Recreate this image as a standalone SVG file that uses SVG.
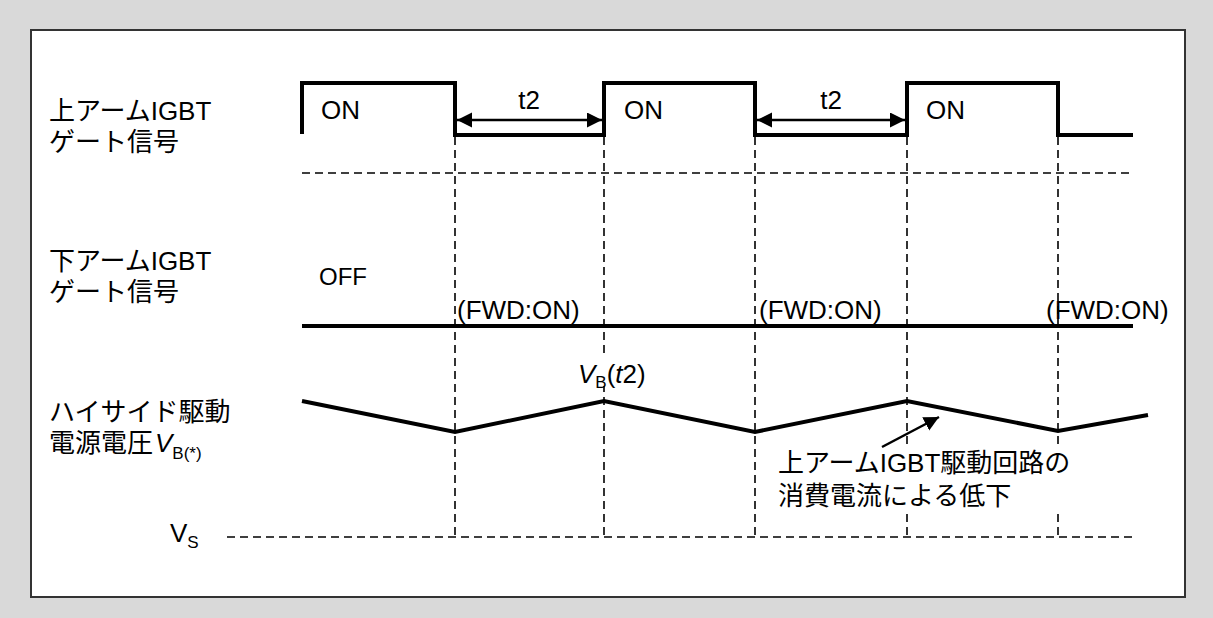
<svg xmlns="http://www.w3.org/2000/svg" width="1213" height="618" viewBox="0 0 1213 618">
<style>
text{font-family:"Liberation Sans","Noto Sans CJK JP",sans-serif;font-size:26px;fill:#000}
.sub{font-size:17px}
.sig{fill:none;stroke:#000;stroke-width:4;stroke-linejoin:miter}
.dash{fill:none;stroke:#000;stroke-width:1.6;stroke-dasharray:8 5}
.arr{fill:none;stroke:#000;stroke-width:2.5}
</style>
<defs>
<marker id="ah" markerUnits="userSpaceOnUse" markerWidth="16" markerHeight="16" refX="15" refY="7.5" orient="auto-start-reverse">
<path d="M0,0 L15,7.5 L0,15 z" fill="#000"/>
</marker>
</defs>
<rect x="0" y="0" width="1213" height="618" fill="#d9d9d9"/>
<rect x="31" y="30" width="1154" height="567" fill="#fff" stroke="#333" stroke-width="2"/>

<g id="grid">
<path class="dash" d="M302,173 H1130"/>
<path class="dash" d="M227,537 H1133"/>
<path class="dash" d="M455,137 V537 M604,137 V537 M755,137 V537 M907,137 V537 M1058,137 V537"/>
</g>

<g id="upper-gate">
<path class="sig" d="M302,134 V83 H455 V135 H604 V83 H755 V135 H907 V83 H1058 V135 H1133"/>
<text x="321" y="119">ON</text>
<text x="624" y="119">ON</text>
<text x="926" y="119">ON</text>
</g>

<g id="lower-gate">
<path class="sig" d="M302,326 H1133"/>
<text x="319" y="285" style="font-size:24px">OFF</text>
<text x="457" y="319">(FWD:ON)</text>
<text x="759" y="319">(FWD:ON)</text>
<text x="1046" y="319">(FWD:ON)</text>
</g>

<g id="vb-wave">
<path class="sig" d="M302,401 L455,432 L604,401 L755,432 L907,401 L1058,431 L1148,415"/>
<rect x="577" y="357" width="70" height="29" fill="#fff"/>
<text x="578" y="383"><tspan font-style="italic">V</tspan><tspan class="sub" dy="5">B</tspan><tspan dy="-5">(</tspan><tspan font-style="italic">t</tspan>2)</text>
</g>

<g id="labels">
<text x="49" y="120">上アームIGBT</text>
<text x="49" y="151">ゲート信号</text>
<text x="49" y="270">下アームIGBT</text>
<text x="49" y="301">ゲート信号</text>
<text x="49" y="421">ハイサイド駆動</text>
<text x="49" y="452">電源電圧<tspan x="155" font-style="italic">V</tspan><tspan class="sub" dy="7">B(*)</tspan></text>
<text x="170" y="542">V<tspan class="sub" dy="6">S</tspan></text>
</g>

<g id="annotation">
<rect x="776" y="447" width="302" height="65" fill="#fff"/>
<text x="778" y="472">上アームIGBT駆動回路の</text>
<text x="778" y="505">消費電流による低下</text>
</g>

<g id="connectors">
<path class="arr" d="M457,120 H602" marker-start="url(#ah)" marker-end="url(#ah)"/>
<path class="arr" d="M757,120 H905" marker-start="url(#ah)" marker-end="url(#ah)"/>
<path class="arr" d="M882,447 L939,417" marker-end="url(#ah)"/>
<text x="529" y="109" text-anchor="middle">t2</text>
<text x="831" y="109" text-anchor="middle">t2</text>
</g>
</svg>
